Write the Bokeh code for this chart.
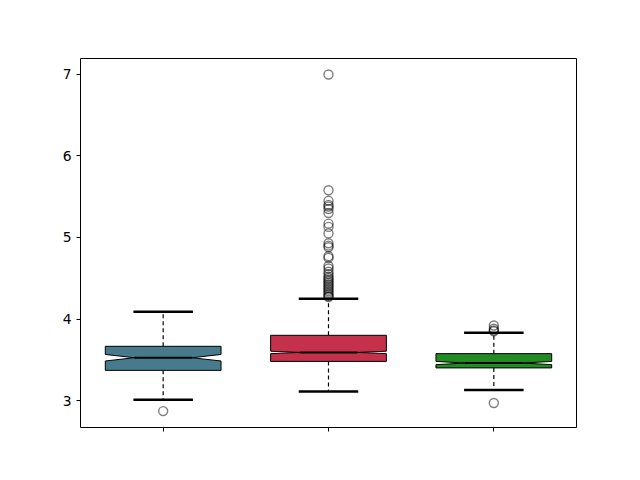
from bokeh.plotting import figure
from bokeh.models import FixedTicker, Range1d
from bokeh.embed import file_html
from bokeh.resources import INLINE

positions = [1, 2, 3]
colors = ["#477a8c", "#c5314a", "#228b22"]
q1 = [3.37, 3.48, 3.40]
medians = [3.525, 3.59, 3.46]
q3 = [3.665, 3.80, 3.575]
notch_lo = [3.485, 3.575, 3.44]
notch_hi = [3.565, 3.605, 3.48]
whisk_lo = [3.01, 3.11, 3.13]
whisk_hi = [4.09, 4.25, 3.83]
outliers = [
    [2.87],
    [7.0, 5.58, 5.45, 5.40, 5.38, 5.35, 5.30, 5.17, 5.13, 5.05, 4.93, 4.90, 4.88,
     4.77, 4.75, 4.65, 4.62, 4.58, 4.55, 4.52, 4.50, 4.48, 4.46, 4.44, 4.42,
     4.40, 4.38, 4.36, 4.34, 4.32, 4.30, 4.28, 4.27],
    [3.92, 3.88, 3.86, 3.85, 2.97],
]

box_w = 0.7
cap_w = 0.36

p = figure(frame_width=496, frame_height=369, output_backend="svg",
           toolbar_location=None, x_range=Range1d(0.5, 3.5),
           y_range=Range1d(2.669, 7.196),
           min_border_left=80, min_border_top=58, min_border_right=60,
           min_border_bottom=45)
p.background_fill_color = "white"
p.border_fill_color = "white"
p.outline_line_color = "black"
p.outline_line_width = 1
p.xgrid.visible = False
p.ygrid.visible = False

# whiskers
for i, x in enumerate(positions):
    p.segment([x, x], [q3[i], q1[i]], [x, x], [whisk_hi[i], whisk_lo[i]],
              line_color="black", line_width=1.2, line_dash="4 3")
    p.segment([x - cap_w / 2, x - cap_w / 2], [whisk_hi[i], whisk_lo[i]],
              [x + cap_w / 2, x + cap_w / 2], [whisk_hi[i], whisk_lo[i]],
              line_color="black", line_width=2.5)

# notched boxes
xs, ys = [], []
for i, x in enumerate(positions):
    hw = box_w / 2
    nw = box_w / 4
    xs.append([x - hw, x + hw, x + hw, x + nw, x + hw, x + hw, x - hw, x - hw, x - nw, x - hw])
    ys.append([q1[i], q1[i], notch_lo[i], medians[i], notch_hi[i], q3[i], q3[i],
               notch_hi[i], medians[i], notch_lo[i]])
p.patches(xs, ys, fill_color=colors, line_color="black", line_width=1)

# medians
p.segment([x - box_w / 4 for x in positions], medians,
          [x + box_w / 4 for x in positions], medians,
          line_color="black", line_width=2)

# outliers
ox, oy = [], []
for i, x in enumerate(positions):
    for v in outliers[i]:
        ox.append(x)
        oy.append(v)
p.scatter(ox, oy, marker="circle", size=9, fill_color=None,
          line_color="black", line_alpha=0.5, line_width=1.4)

p.xaxis.ticker = FixedTicker(ticks=positions)
p.xaxis.major_label_overrides = {1: "", 2: "", 3: ""}
p.yaxis.ticker = FixedTicker(ticks=[3, 4, 5, 6, 7])
for ax in (p.xaxis[0], p.yaxis[0]):
    ax.major_tick_out = 4
    ax.major_tick_in = 0
    ax.minor_tick_out = 0
    ax.minor_tick_in = 0
    ax.axis_line_color = None
    ax.major_tick_line_color = "black"
    ax.major_label_text_font = "DejaVu Sans"
    ax.major_label_text_font_size = "13.9px"
    ax.major_label_text_color = "black"
    ax.major_label_standoff = 5

open("out.html", "w").write(file_html(p, INLINE))
